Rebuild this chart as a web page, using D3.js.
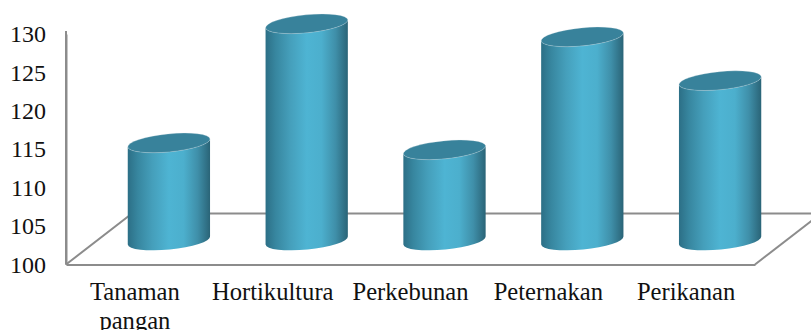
<html>
<head>
    <script src="https://d3js.org/d3.v7.min.js"></script>
    <style>
      body { margin: 0; background: #fff; }
      text { font-family: "Liberation Serif", serif; fill: #111; }
    </style>
</head>

<body>
<svg width=811 height=330> </svg>
<script>
const categories = ['Tanaman pangan', 'Hortikultura', 'Perkebunan', 'Peternakan', 'Perikanan'];
const values = [112.7, 128.2, 111.8, 126.5, 120.8];
const yTicks = [100, 105, 110, 115, 120, 125, 130];

const sel = d3.select('svg');

// front plane of the box, the floor recedes up and to the right
const x = d3.scaleBand().domain(categories).range([66, 755]).paddingInner(0.4).paddingOuter(0.2);
const y = d3.scaleLinear().domain([100, 130]).range([264.5, 34]);
const wallTop = 31;
const floorDx = 66, floorDy = 51;
// bars stand part way back on the floor
const barDx = 34, barDy = 24;

const rx = x.bandwidth() / 2, ry = 9, tilt = -5.6;
const tx = rx * Math.cos(tilt * Math.PI / 180), ty = rx * Math.sin(tilt * Math.PI / 180);

const defs = sel.append('defs');
const grad = defs.append('linearGradient').attr('id', 'side');
[[0, '#2c6f86'], [0.12, '#37869f'], [0.3, '#459fbb'], [0.5, '#4eb4d3'], [0.68, '#4cafcd'],
 [0.85, '#3f8fa9'], [1, '#2a6477']].forEach(s => {
  grad.append('stop').attr('offset', s[0]).attr('stop-color', s[1]);
});

// floor outline
const axisColor = '#8c8c8c';
const floor = sel.append('g').attr('fill', 'none').attr('stroke', axisColor).attr('stroke-width', 2);
const x0 = x.range()[0], x1 = x.range()[1], y0 = y.range()[0];
floor.append('path').attr('d', d3.line()([[x0, y0], [x0 + floorDx, y0 - floorDy], [811, y0 - floorDy]]));
floor.append('path').attr('d', d3.line()([[x1, y0], [x1 + floorDx, y0 - floorDy]]));
// the wall line runs a little past the top tick
floor.append('path').attr('d', d3.line()([[x0, y0], [x0, wallTop]]));

// axes
const yAxis = sel.append('g')
  .attr('transform', `translate(${x0},0)`)
  .call(d3.axisLeft(y).tickValues(yTicks).tickSize(0).tickPadding(20));
yAxis.selectAll('text').style('font-size', '24px');

const xAxis = sel.append('g')
  .attr('transform', `translate(0,${y0})`)
  .call(d3.axisBottom(x).tickSize(0).tickPadding(18));
xAxis.selectAll('text').style('font-size', '24.6px')
  .each(function (d) {
    // long names break onto a second line
    const words = d.split(' ');
    const t = d3.select(this).text(null);
    words.forEach((w, i) => {
      t.append('tspan').attr('x', 0).attr('dy', i ? '1.17em' : '0.71em').text(w);
    });
  });
sel.selectAll('.domain').attr('stroke', axisColor).attr('stroke-width', 2);

// cylinders
const bars = sel.append('g').selectAll('g')
  .data(categories)
  .join('g')
  .attr('transform', d => `translate(${x(d) + rx + barDx},0)`);

const baseY = y(100) - barDy;
bars.append('path')
  .attr('fill', 'url(#side)')
  .attr('d', (d, i) => {
    const top = y(values[i]) - barDy;
    return `M${-tx},${top - ty}L${-tx},${baseY - ty}` +
      `A${rx},${ry} ${tilt} 0 0 ${tx},${baseY + ty}` +
      `L${tx},${top + ty}` +
      `A${rx},${ry} ${tilt} 0 1 ${-tx},${top - ty}Z`;
  });

bars.append('ellipse')
  .attr('rx', rx).attr('ry', ry)
  .attr('fill', '#38829b')
  .attr('stroke', '#dfe9ec').attr('stroke-width', 0.5).attr('stroke-opacity', 0.5)
  .attr('transform', (d, i) => `translate(0,${y(values[i]) - barDy}) rotate(${tilt})`);
</script>

</body>
</html>
